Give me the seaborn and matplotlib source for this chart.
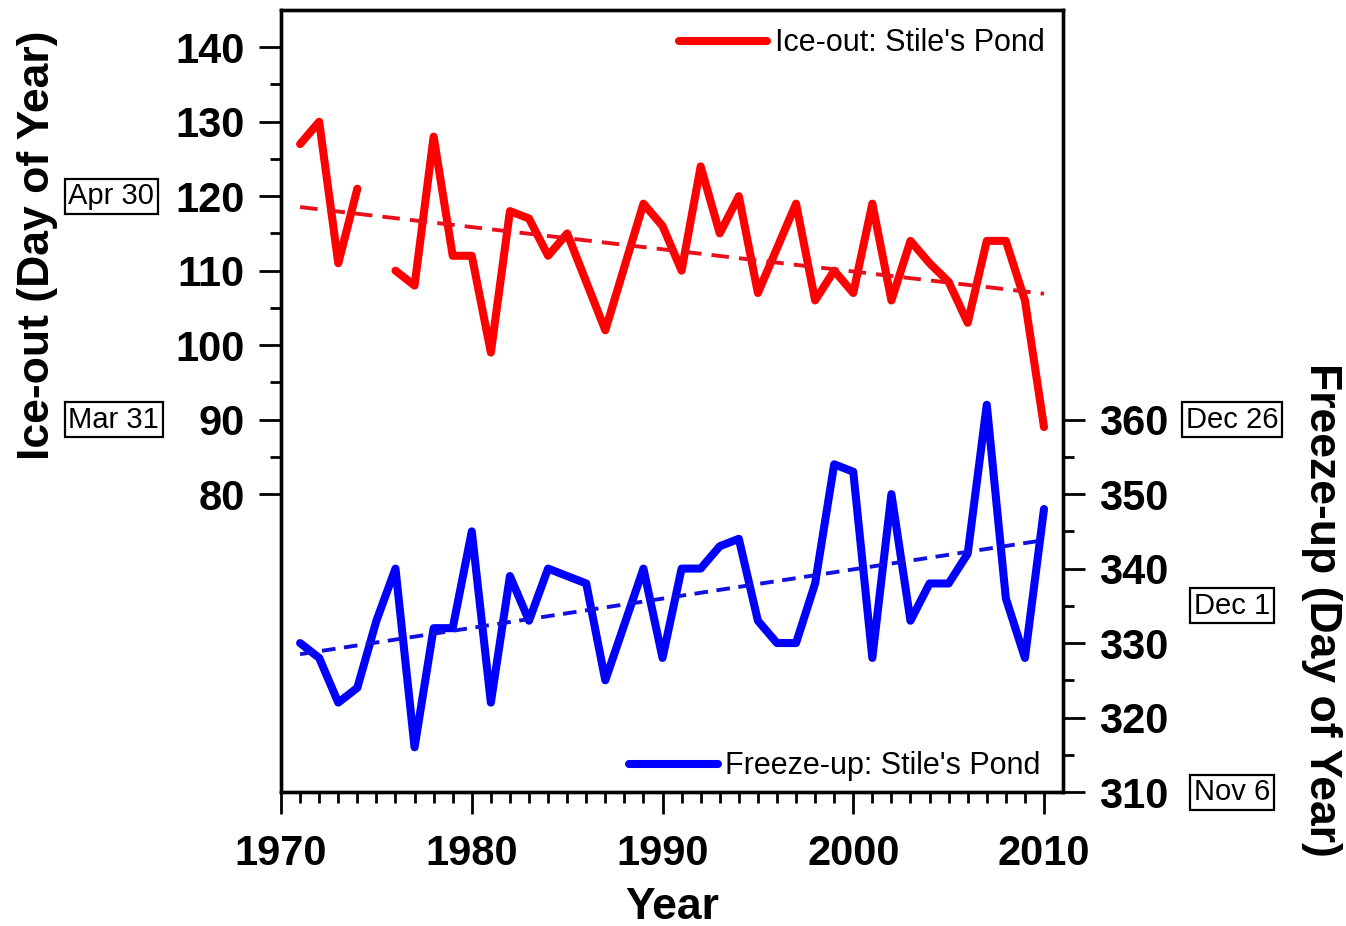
import numpy as np
import pandas as pd
import matplotlib.pyplot as plt
import seaborn as sns
from matplotlib.transforms import blended_transform_factory

# %% data (day of year)
ice_years = [1971, 1972, 1973, 1974, 1976, 1977, 1978, 1979, 1980,
             1981, 1982, 1983, 1984, 1985, 1986, 1987, 1988, 1989, 1990,
             1991, 1992, 1993, 1994, 1995, 1996, 1997, 1998, 1999, 2000,
             2001, 2002, 2003, 2004, 2005, 2006, 2007, 2008, 2009, 2010]
ice_out = [127, 130, 111, 121, 110, 108, 128, 112, 112,
           99, 118, 117, 112, 115, 108.5, 102, 110.5, 119, 116,
           110, 124, 115, 120, 107, 113, 119, 106, 110, 107,
           119, 106, 114, 111, 108.5, 103, 114, 114, 106, 89]
# record is broken in 1975
ice_segment = ["a"] * 4 + ["b"] * 35

freeze_years = list(range(1971, 2011))
freeze_up = [330, 328, 322, 324, 333, 340, 316, 332, 332, 345,
             322, 339, 333, 340, 339, 338, 325, 332.5, 340, 328,
             340, 340, 343, 344, 333, 330, 330, 338, 354, 353,
             328, 350, 333, 338, 338, 342, 362, 336, 328, 348]

ice_dates = ["Apr 30", "Mar 31"]
ice_date_days = [120, 90]
freeze_dates = ["Dec 26", "Dec 1", "Nov 6"]
freeze_date_days = [360, 335, 310]

df_ice = pd.DataFrame({"year": ice_years, "day": ice_out, "segment": ice_segment})
df_freeze = pd.DataFrame({"year": freeze_years, "day": freeze_up})

# %% plot
sns.set_style("ticks")
plt.rcParams["font.family"] = ["Liberation Sans", "DejaVu Sans"]
plt.rcParams.update({"text.color": "black", "axes.labelcolor": "black",
                     "xtick.color": "black", "ytick.color": "black"})

fig = plt.figure(figsize=(13.46, 9.26), dpi=100)
ax = fig.add_axes([0.2088, 0.1447, 0.581, 0.8445])
ax2 = ax.twinx()

sns.lineplot(data=df_ice, x="year", y="day", units="segment", estimator=None,
             color="#ff0000", lw=5.8, ax=ax, label="Ice-out: Stile's Pond")
sns.regplot(data=df_ice, x="year", y="day", scatter=False, ci=None, ax=ax,
            line_kws=dict(color="#e8101a", lw=2.8, ls=(0, (4.5, 2.6))))

sns.lineplot(data=df_freeze, x="year", y="day", color="#0000ff", lw=5.8,
             ax=ax2, label="Freeze-up: Stile's Pond")
sns.regplot(data=df_freeze, x="year", y="day", scatter=False, ci=None, ax=ax2,
            line_kws=dict(color="#1010e0", lw=2.8, ls=(0, (3.5, 2.2))))

ax.set_xlim(1970, 2011)
ax.set_ylim(40, 145)
ax2.set_ylim(310, 415)

ax.set_xticks(range(1970, 2011, 10))
ax.set_xticks([y for y in range(1971, 2010) if y % 10], minor=True)
ax.set_yticks(range(80, 141, 10))
ax.set_yticks(range(85, 136, 10), minor=True)
ax2.set_yticks(range(310, 361, 10))
ax2.set_yticks(range(315, 356, 10), minor=True)

for a in (ax, ax2):
    a.tick_params(which="major", length=16, width=2, direction="out")
    a.tick_params(which="minor", length=8, width=2, direction="out")
    a.tick_params(axis="y", labelsize=30, pad=10)
    for lab in a.get_yticklabels():
        lab.set_fontweight("bold")
    for s in a.spines.values():
        s.set_visible(True)
        s.set_linewidth(2.4)
        s.set_color("black")
ax.tick_params(axis="x", labelsize=30, pad=14)
for lab in ax.get_xticklabels():
    lab.set_fontweight("bold")
ax.tick_params(top=False, right=False)

ax.set_xlabel("")
ax.set_ylabel("")
ax2.set_ylabel("")
ax.text(0.5, -0.148, "Year", transform=ax.transAxes, ha="center", va="center",
        fontsize=32, fontweight="bold")
ax.text(-0.311, 0.699, "Ice-out (Day of Year)", transform=ax.transAxes,
        rotation=90, ha="center", va="center", fontsize=32, fontweight="bold")
ax.text(1.331, 0.233, "Freeze-up (Day of Year)", transform=ax.transAxes,
        rotation=-90, ha="center", va="center", fontsize=32, fontweight="bold")

# calendar dates in boxes
box = dict(boxstyle="square,pad=0.12", fc="white", ec="black", lw=1.6)
tr = blended_transform_factory(ax.transAxes, ax.transData)
for txt, d in zip(ice_dates, ice_date_days):
    ax.text(-0.272, d, txt, transform=tr, ha="left", va="center",
            fontsize=21, bbox=box)
tr2 = blended_transform_factory(ax2.transAxes, ax2.transData)
for txt, d in zip(freeze_dates, freeze_date_days):
    ax2.text(1.216, d, txt, transform=tr2, ha="center", va="center",
             fontsize=21, bbox=box)

# legends
h1, l1 = ax.get_legend_handles_labels()
ax.legend(h1[:1], l1[:1], loc="upper right", bbox_to_anchor=(1.0, 1.0),
          frameon=False, fontsize=22, handlelength=2.9, handletextpad=0.25,
          borderaxespad=0.2)
h2, l2 = ax2.get_legend_handles_labels()
ax2.legend(h2[:1], l2[:1], loc="lower right", bbox_to_anchor=(0.995, -0.01),
           frameon=False, fontsize=22, handlelength=2.9, handletextpad=0.25,
           borderaxespad=0.2)

fig.savefig("out.png", dpi=100)
